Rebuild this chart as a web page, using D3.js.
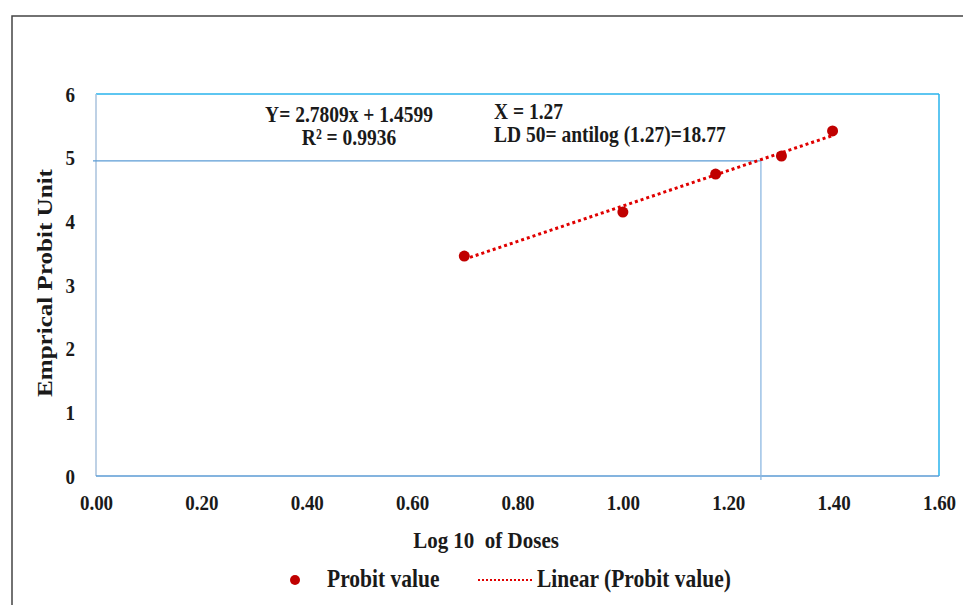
<!DOCTYPE html>
<html>
<head>
<meta charset="utf-8">
<script src="https://cdn.jsdelivr.net/npm/d3@7"></script>
<style>
  body { margin: 0; background: #fff; }
  svg text { font-family: "Liberation Serif", "Times New Roman", serif; font-weight: bold; fill: #1a1a1a; }
</style>
</head>
<body>
<div id="chart"></div>
<script>
const logDoses = [0.699, 1.0, 1.176, 1.301, 1.398];
const probits = [3.455, 4.146, 4.743, 5.026, 5.42];

// linear trend (as printed on the chart)
const slope = 2.7809;
const intercept = 1.4599;

// LD50 guide lines
const ld50X = 1.262;
const ld50Y = 4.95;

const xTicks = [0, 0.2, 0.4, 0.6, 0.8, 1.0, 1.2, 1.4, 1.6];
const yTicks = [0, 1, 2, 3, 4, 5, 6];

const width = 963, height = 605;
const margin = { top: 94, right: 24, bottom: 129, left: 96 };
const w = width - margin.left - margin.right;
const h = height - margin.top - margin.bottom;
const stretch = 1.14; // source image text is a bit taller than wide

const svg = d3.select('#chart').append('svg')
    .attr('width', width)
    .attr('height', height);

// text placed at (x, y) baseline, stretched vertically
function label(parent, x, y, txt, size, anchor) {
    return parent.append('text')
        .attr('transform', `translate(${x},${y}) scale(1,${stretch})`)
        .attr('text-anchor', anchor || 'start')
        .attr('xml:space', 'preserve')
        .style('font-size', size + 'px')
        .text(txt);
}

// outer frame
svg.append('rect')
    .attr('x', 12).attr('y', 16)
    .attr('width', width + 20).attr('height', height)
    .attr('fill', 'none')
    .attr('stroke', '#444')
    .attr('stroke-width', 1.5);

const g = svg.append('g')
    .attr('transform', `translate(${margin.left},${margin.top})`);

const xScale = d3.scaleLinear().domain([0, 1.6]).range([0, w]);
const yScale = d3.scaleLinear().domain([0, 6]).range([h, 0]);

// plot area borders
g.append('line').attr('x1', 0).attr('x2', w).attr('y1', 0).attr('y2', 0)
    .attr('stroke', '#29b3ec').attr('stroke-width', 1.5);
g.append('line').attr('x1', w).attr('x2', w).attr('y1', 0).attr('y2', h)
    .attr('stroke', '#29b3ec').attr('stroke-width', 1.5);
g.append('line').attr('x1', 0).attr('x2', 0).attr('y1', 0).attr('y2', h)
    .attr('stroke', '#a9c2dc').attr('stroke-width', 1.5);
g.append('line').attr('x1', 0).attr('x2', w).attr('y1', h).attr('y2', h)
    .attr('stroke', '#5b9bd5').attr('stroke-width', 1.5);

// Axes (labels only)
const xAxis = g.append('g')
    .attr('transform', `translate(0,${h})`)
    .call(d3.axisBottom(xScale).tickValues(xTicks).tickFormat(d3.format('.2f')).tickSize(0).tickPadding(0));
const yAxis = g.append('g')
    .call(d3.axisLeft(yScale).tickValues(yTicks).tickFormat(d3.format('d')).tickSize(0).tickPadding(0));
[xAxis, yAxis].forEach(a => {
    a.select('.domain').remove();
    a.attr('font-family', null).attr('font-size', null);
    a.selectAll('text')
        .attr('dy', null)
        .style('font-size', '19px')
        .attr('fill', '#1a1a1a');
});
xAxis.selectAll('text').attr('y', null)
    .attr('transform', `translate(0,34) scale(1,${stretch})`);
yAxis.selectAll('text').attr('x', null)
    .attr('transform', `translate(-21,7) scale(1,${stretch})`);

// LD50 guide lines
g.append('line')
    .attr('x1', -3).attr('x2', xScale(ld50X))
    .attr('y1', yScale(ld50Y)).attr('y2', yScale(ld50Y))
    .attr('stroke', '#5b9bd5').attr('stroke-width', 1.3);
g.append('line')
    .attr('x1', xScale(ld50X)).attr('x2', xScale(ld50X))
    .attr('y1', yScale(ld50Y)).attr('y2', h + 4)
    .attr('stroke', '#8db8e2').attr('stroke-width', 1.3);

// Trend line
const xExt = d3.extent(logDoses);
g.append('line')
    .attr('x1', xScale(xExt[0])).attr('y1', yScale(slope * xExt[0] + intercept))
    .attr('x2', xScale(xExt[1])).attr('y2', yScale(slope * xExt[1] + intercept))
    .attr('stroke', '#e00000')
    .attr('stroke-width', 3)
    .attr('stroke-dasharray', '3,3');

// Points
g.selectAll('.pt')
    .data(logDoses.map((x, i) => ({ x, y: probits[i] })))
    .join('circle')
    .attr('class', 'pt')
    .attr('cx', d => xScale(d.x))
    .attr('cy', d => yScale(d.y))
    .attr('r', 5.5)
    .attr('fill', '#c00000');

// Annotations
label(svg, 349, 122, 'Y= 2.7809x + 1.4599', 19.5, 'middle');
label(svg, 349, 145, 'R² = 0.9936', 19.5, 'middle');
label(svg, 494, 119, 'X = 1.27', 19.5);
label(svg, 494, 142, 'LD 50= antilog (1.27)=18.77', 19.5);

// Axis titles
svg.append('text')
    .attr('transform', `translate(52,283) rotate(-90) scale(${stretch},1)`)
    .attr('text-anchor', 'middle')
    .style('font-size', '22px')
    .text('Emprical Probit Unit');
label(svg, 486, 548, 'Log 10  of Doses', 21, 'middle');

// Legend
const lg = svg.append('g').attr('transform', 'translate(0,580)');
lg.append('circle').attr('cx', 295).attr('cy', 0).attr('r', 5).attr('fill', '#c00000');
label(lg, 327, 7, 'Probit value', 21.5);
lg.append('line').attr('x1', 478).attr('x2', 534).attr('y1', 0).attr('y2', 0)
    .attr('stroke', '#e00000').attr('stroke-width', 2).attr('stroke-dasharray', '2,2');
label(lg, 537, 7, 'Linear (Probit value)', 21.5);
</script>
</body>
</html>
